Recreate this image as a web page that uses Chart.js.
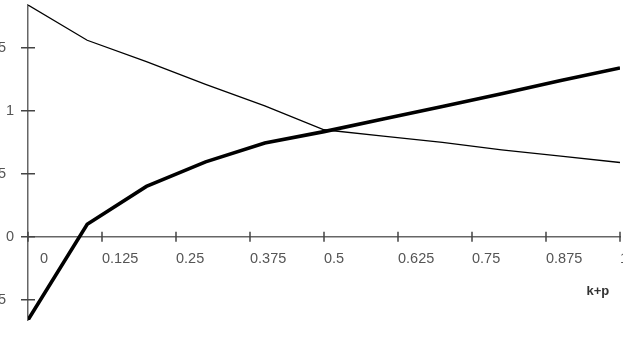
<!DOCTYPE html>
<html>
<head>
<meta charset="utf-8">
<script src="https://cdn.jsdelivr.net/npm/chart.js@4.4.0/dist/chart.umd.min.js"></script>
<style>
  html, body { margin: 0; padding: 0; background: #fff; }
  /* the chart is a bit bigger than the window so the y labels get cut at the left edge */
  #frame { position: relative; width: 623px; height: 337px; overflow: hidden; }
  #myChart { position: absolute; left: -30px; top: -20px; }
</style>
</head>
<body>
<div id="frame"><canvas id="myChart" width="683" height="377"></canvas></div>
<script>
// Values

let xValues = [0, 0.1, 0.2, 0.3, 0.4, 0.5, 0.6, 0.7, 0.8, 0.9, 1];

// thin line, falling
let thinValues = [1.84, 1.56, 1.39, 1.21, 1.04, 0.85, 0.80, 0.75, 0.69, 0.64, 0.59];

// thick line, rising
let thickValues = [-0.66, 0.10, 0.40, 0.595, 0.745, 0.835, 0.935, 1.035, 1.135, 1.24, 1.34];

let xTicks = [0, 0.125, 0.25, 0.375, 0.5, 0.625, 0.75, 0.875, 1];
let yTicks = [-0.5, 0, 0.5, 1, 1.5];

let xTitle = "k+p";

let axisColor = "#666";
let labelColor = "#555";

function toPoints(ys) {
    return xValues.map((x, i) => ({x: x, y: ys[i]}));
}

let yMin = Math.min(...thinValues, ...thickValues);
let yMax = Math.max(...thinValues, ...thickValues);

// tick marks that cross the axis lines (Chart.js only draws them on one side)
const crossTicks = {
    id: "crossTicks",
    beforeDatasetsDraw(chart) {
        const ctx = chart.ctx;
        const xs = chart.scales.x;
        const ys = chart.scales.y;
        const axisY = ys.getPixelForValue(0);
        const axisX = chart.chartArea.left;
        ctx.save();
        ctx.strokeStyle = "#444";
        ctx.lineWidth = 1.5;
        ctx.beginPath();
        for (let t of xs.ticks) {
            let px = xs.getPixelForValue(t.value);
            ctx.moveTo(px, axisY - 5);
            ctx.lineTo(px, axisY + 5);
        }
        for (let t of ys.ticks) {
            let py = ys.getPixelForValue(t.value);
            ctx.moveTo(axisX - 7, py);
            ctx.lineTo(axisX + 7, py);
        }
        ctx.stroke();
        ctx.restore();
    }
};

let chart = new Chart("myChart", {
    type: "line",
    data: {
        datasets: [{
            data: toPoints(thinValues),
            borderColor: "#000",
            borderWidth: 1.3,
            pointRadius: 0,
            tension: 0,
            fill: false
        }, {
            data: toPoints(thickValues),
            borderColor: "#000",
            borderWidth: 3.6,
            pointRadius: 0,
            tension: 0,
            fill: false
        }]
    },
    options: {
        responsive: false,
        animation: false,
        devicePixelRatio: 1,
        layout: {padding: {left: 28, top: 25, right: 33, bottom: 37}},
        plugins: {legend: {display: false}, tooltip: {enabled: false}},
        scales: {
            x: {
                type: "linear",
                position: {y: 0},
                min: 0,
                max: 1,
                afterBuildTicks: s => { s.ticks = xTicks.map(v => ({value: v})); },
                grid: {display: false},
                border: {display: true, color: axisColor, width: 1.5},
                ticks: {
                    align: "start",
                    padding: 5,
                    color: labelColor,
                    font: {family: "Liberation Sans", size: 14.5},
                    // the 0 sits a little away from the y axis
                    callback: v => v === 0 ? "   0" : String(v)
                },
                title: {
                    display: true,
                    text: xTitle + "   ",
                    align: "end",
                    color: "#333",
                    padding: {top: 11, bottom: 0},
                    font: {family: "Liberation Sans", size: 13, weight: "bold"}
                }
            },
            y: {
                type: "linear",
                position: "left",
                min: yMin,
                max: yMax,
                afterBuildTicks: s => { s.ticks = yTicks.map(v => ({value: v})); },
                afterFit: s => { s.width = 30; },
                grid: {display: false},
                border: {display: true, color: axisColor, width: 1.5},
                ticks: {
                    padding: 6,
                    color: labelColor,
                    font: {family: "Liberation Sans", size: 14.5},
                    // decimals end a bit further left than the whole numbers
                    callback: v => Number.isInteger(v) ? String(v) : v + "  "
                }
            }
        }
    },
    plugins: [crossTicks]
});
</script>
</body>
</html>
